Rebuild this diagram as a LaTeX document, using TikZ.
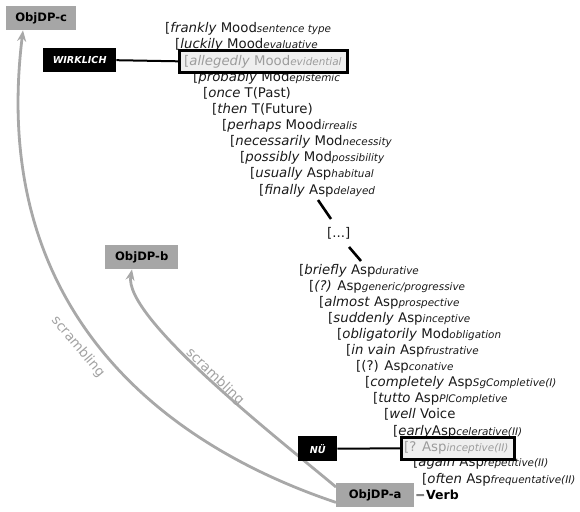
\documentclass[tikz,border=0pt]{standalone}
\usepackage{fontspec}
\setmainfont{DejaVu Sans}
\usetikzlibrary{arrows.meta}
\definecolor{txt}{HTML}{1A1A1A}
\definecolor{boxgray}{HTML}{A6A6A6}
\definecolor{curvegray}{HTML}{A8A8A8}
\definecolor{labgray}{HTML}{A2A2A2}
\definecolor{hltxt}{HTML}{9C9C9C}
\definecolor{hlfill}{HTML}{EFEFEF}
\newcommand\mainsz{\fontsize{13.3}{15}\selectfont}
\newcommand\sbs[1]{{\fontsize{10.4}{12}\selectfont\itshape #1}}
\newcommand\adv[1]{\textit{#1}}
\begin{document}
\begin{tikzpicture}[x=1pt,y=-1pt,
 rowtext/.style={anchor=base west, inner sep=0pt, font=\mainsz, text=txt},
 hlrow/.style={rowtext, text=hltxt},
 hlbox/.style={draw=black, line width=2.6pt, fill=hlfill, anchor=north west, inner sep=0pt},
 objbox/.style={fill=boxgray, inner sep=0pt, anchor=north west, minimum height=24pt, font=\fontsize{11.6}{13}\selectfont\bfseries, text=black},
 tagbox/.style={fill=black, text=white, inner sep=0pt, anchor=north west, font=\fontsize{9.6}{11}\selectfont\bfseries\itshape},
 scr/.style={draw=curvegray, line width=2.8pt, -{Stealth[length=11pt,width=9pt]}},
 scrlabel/.style={text=labgray, font=\fontsize{13.5}{14}\selectfont, inner sep=0pt},
 link/.style={draw=black, line width=2pt},
 dotlink/.style={draw=black, line width=2.6pt}
]
\useasboundingbox (0,0) rectangle (580,511);

% boxes and scrambling curves
\node[objbox, minimum width=70pt] (objc) at (6,6) {ObjDP-c};
\node[objbox, minimum width=73pt] (objb) at (105,245) {ObjDP-b};
\node[objbox, minimum width=78pt] (obja) at (336,483) {ObjDP-a};
\draw[scr] ([yshift=5pt]obja.south west) .. controls (150,440) and (-10,300) .. ([xshift=17pt]objc.south west);
\draw[scr] ([yshift=-4pt]obja.north west) .. controls (280,440) and (123,318) .. ([xshift=27pt]objb.south west);
\node[scrlabel, rotate=-50] (s1) at (78,347) {scrambling};
\node[scrlabel, rotate=-44] (s2) at (215,377) {scrambling};

% rows
\node[rowtext] (r1) at (165,32.5) {[\adv{frankly} Mood\sbs{sentence type}};
\node[rowtext] (r2) at (175,48.5) {[\adv{luckily} Mood\sbs{evaluative}};
\node[rowtext] (r4) at (193,81.5) {[\adv{probably} Mod\sbs{epistemic}};
\node[rowtext] (r5) at (203,97.5) {[\adv{once} T(Past)};
\node[rowtext] (r6) at (212,113.5) {[\adv{then} T(Future)};
\node[rowtext] (r7) at (222,129.5) {[\adv{perhaps} Mood\sbs{irrealis}};
\node[rowtext] (r8) at (230,145.5) {[\adv{necessarily} Mod\sbs{necessity}};
\node[rowtext] (r9) at (240,161.5) {[\adv{possibly} Mod\sbs{possibility}};
\node[rowtext] (r10) at (250,177.5) {[\adv{usually} Asp\sbs{habitual}};
\node[rowtext] (r11) at (259,194.5) {[\adv{finally} Asp\sbs{delayed}};
\node[rowtext] (dots) at (327,237.5) {[...]};
\node[rowtext] (r12) at (299,274.5) {[\adv{briefly} Asp\sbs{durative}};
\node[rowtext] (r13) at (309,290.5) {[\adv{(?)} Asp\sbs{generic/progressive}};
\node[rowtext] (r14) at (319,306.5) {[\adv{almost} Asp\sbs{prospective}};
\node[rowtext] (r15) at (328,322.5) {[\adv{suddenly} Asp\sbs{inceptive}};
\node[rowtext] (r16) at (337,338.5) {[\adv{obligatorily} Mod\sbs{obligation}};
\node[rowtext] (r17) at (346,354.5) {[\adv{in vain} Asp\sbs{frustrative}};
\node[rowtext] (r18) at (356,370.5) {[(?) Asp\sbs{conative}};
\node[rowtext] (r19) at (365,386.5) {[\adv{completely} Asp\sbs{SgCompletive(I)}};
\node[rowtext] (r20) at (373,402.5) {[\adv{tutto} Asp\sbs{PlCompletive}};
\node[rowtext] (r21) at (384,418.5) {[\adv{well} Voice};
\node[rowtext] (r22) at (393,435) {[\adv{early}Asp\sbs{celerative(II)}};
\node[rowtext] (r24) at (413,466.5) {[\adv{again} Asp\sbs{repetitive(II)}};
\node[rowtext] (r25) at (422,483) {[\adv{often} Asp\sbs{frequentative(II)}};

% highlighted rows
\node[hlbox, minimum width=168pt, minimum height=22pt] (hb1) at (178,49) {};
\node[hlrow] (r3) at (184,65.5) {[\adv{allegedly} Mood\sbs{evidential}};
\node[hlbox, minimum width=113pt, minimum height=22pt] (hb2) at (400,436) {};
\node[hlrow] (r23) at (404,451.5) {[? Asp\sbs{inceptive(II)}};

% tags
\node[tagbox, minimum width=73pt, minimum height=24pt] (wirk) at (43,48) {WIRKLICH};
\node[tagbox, minimum width=39pt, minimum height=25pt] (nue) at (298,436) {NÜ};
\draw[link] (wirk.east) -- (hb1.west);
\draw[link] (nue.east) -- (hb2.west);

% dots connectors
\coordinate (d1a) at (318,200);
\coordinate (d1b) at (331,219);
\coordinate (d2a) at (349,247);
\coordinate (d2b) at (361,261);
\draw[dotlink] (d1a) -- (d1b);
\draw[dotlink] (d2a) -- (d2b);

% verb
\node[anchor=west, inner sep=0pt, font=\fontsize{12.5}{14}\selectfont\bfseries, text=black] (verb) at (426,495) {Verb};
\draw[draw=gray, line width=2pt, shorten <=2pt, shorten >=2pt] (obja.east) -- (verb.west);
\end{tikzpicture}
\end{document}
